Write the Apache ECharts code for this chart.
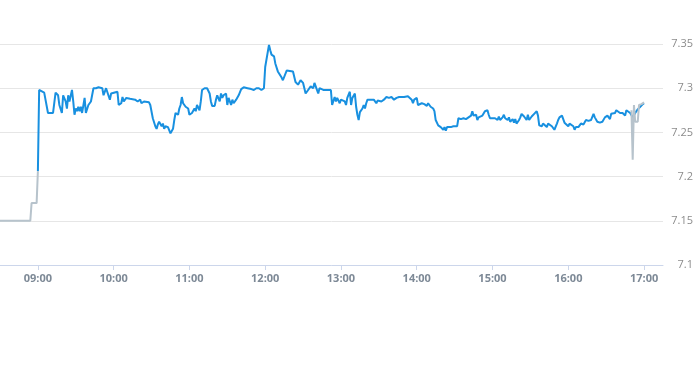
<!DOCTYPE html>
<html>
<head>
<meta charset="utf-8">
<script src="https://cdn.jsdelivr.net/npm/echarts@6/dist/echarts.min.js"></script>
<style>html,body{margin:0;padding:0;background:#fff;}#c{width:693px;height:365px;}</style>
</head>
<body>
<div id="c"></div>
<script>
// Main session (blue)
const sessionTimes = ["09:00","09:01","09:02","09:05","09:06","09:08","09:12","09:14","09:16","09:17","09:19","09:20","09:22","09:23","09:24","09:25","09:26","09:27","09:28","09:29","09:30","09:31","09:32","09:33","09:34","09:35","09:37","09:38","09:40","09:42","09:43","09:44","09:46","09:48","09:51","09:52","09:54","09:55","09:57","09:58","09:59","10:03","10:04","10:06","10:07","10:08","10:10","10:11","10:13","10:17","10:19","10:21","10:22","10:24","10:25","10:28","10:29","10:31","10:33","10:34","10:35","10:36","10:38","10:39","10:40","10:41","10:43","10:44","10:45","10:47","10:48","10:49","10:51","10:52","10:53","10:54","10:55","10:56","10:57","10:59","11:00","11:01","11:02","11:04","11:05","11:06","11:08","11:09","11:10","11:12","11:14","11:16","11:17","11:18","11:20","11:21","11:22","11:24","11:25","11:26","11:27","11:29","11:30","11:31","11:33","11:34","11:35","11:37","11:38","11:39","11:41","11:43","11:46","11:49","11:50","11:51","11:53","11:54","11:55","11:57","11:58","11:59","12:00","12:03","12:04","12:05","12:07","12:08","12:10","12:11","12:13","12:14","12:17","12:22","12:24","12:26","12:27","12:28","12:30","12:31","12:32","12:34","12:35","12:36","12:38","12:39","12:40","12:42","12:43","12:44","12:46","12:47","12:48","12:50","12:51","12:52","12:53","12:55","12:56","12:57","12:59","13:00","13:01","13:03","13:04","13:05","13:07","13:08","13:09","13:11","13:12","13:13","13:14","13:15","13:17","13:18","13:19","13:20","13:21","13:22","13:24","13:25","13:26","13:28","13:29","13:30","13:32","13:33","13:34","13:36","13:37","13:38","13:40","13:41","13:42","13:44","13:45","13:46","13:48","13:50","13:53","13:54","13:56","13:57","13:58","14:00","14:01","14:02","14:04","14:05","14:06","14:08","14:09","14:10","14:11","14:13","14:14","14:15","14:17","14:18","14:19","14:21","14:22","14:23","14:24","14:25","14:27","14:28","14:29","14:30","14:32","14:33","14:35","14:36","14:37","14:39","14:40","14:41","14:43","14:44","14:45","14:47","14:48","14:49","14:50","14:52","14:53","14:54","14:56","14:57","14:58","15:00","15:01","15:02","15:04","15:05","15:06","15:08","15:09","15:10","15:12","15:13","15:14","15:16","15:17","15:18","15:19","15:21","15:22","15:23","15:24","15:25","15:27","15:28","15:29","15:31","15:32","15:33","15:35","15:36","15:37","15:39","15:40","15:41","15:43","15:44","15:45","15:47","15:48","15:49","15:51","15:52","15:53","15:55","15:56","15:57","15:58","16:00","16:01","16:02","16:04","16:05","16:06","16:08","16:09","16:10","16:12","16:13","16:14","16:16","16:17","16:18","16:20","16:21","16:22","16:23","16:25","16:26","16:27","16:29","16:30","16:31","16:33","16:34","16:35","16:37","16:38","16:39","16:41","16:42","16:43","16:45","16:46","16:47","16:49","16:50","16:51","16:53","16:55","16:57","16:59","17:00"];
const sessionValues = [7.206,7.298,7.297,7.295,7.294,7.272,7.272,7.295,7.292,7.281,7.272,7.292,7.285,7.277,7.292,7.285,7.287,7.298,7.285,7.270,7.277,7.274,7.279,7.274,7.279,7.272,7.289,7.272,7.281,7.285,7.287,7.300,7.300,7.301,7.300,7.292,7.300,7.298,7.287,7.294,7.296,7.296,7.281,7.283,7.290,7.285,7.289,7.287,7.288,7.287,7.285,7.287,7.283,7.285,7.283,7.284,7.281,7.266,7.257,7.254,7.259,7.262,7.257,7.260,7.254,7.257,7.256,7.257,7.249,7.254,7.264,7.272,7.270,7.277,7.281,7.290,7.283,7.281,7.279,7.277,7.270,7.272,7.272,7.277,7.274,7.281,7.275,7.285,7.298,7.300,7.300,7.294,7.285,7.280,7.280,7.287,7.292,7.285,7.294,7.289,7.292,7.294,7.281,7.289,7.281,7.287,7.283,7.287,7.289,7.292,7.299,7.301,7.300,7.299,7.300,7.298,7.300,7.298,7.300,7.298,7.300,7.300,7.324,7.349,7.343,7.338,7.336,7.328,7.319,7.317,7.312,7.309,7.320,7.319,7.307,7.304,7.302,7.309,7.306,7.300,7.294,7.298,7.300,7.302,7.300,7.306,7.302,7.294,7.300,7.299,7.298,7.299,7.298,7.298,7.299,7.298,7.281,7.290,7.285,7.289,7.283,7.287,7.287,7.285,7.281,7.289,7.296,7.281,7.289,7.294,7.279,7.270,7.264,7.273,7.277,7.281,7.277,7.283,7.287,7.289,7.287,7.289,7.287,7.283,7.286,7.285,7.285,7.287,7.287,7.290,7.290,7.289,7.290,7.289,7.287,7.289,7.290,7.290,7.290,7.290,7.291,7.292,7.287,7.283,7.287,7.289,7.281,7.279,7.283,7.281,7.282,7.280,7.283,7.282,7.279,7.277,7.274,7.264,7.258,7.258,7.256,7.253,7.256,7.252,7.256,7.254,7.256,7.255,7.257,7.255,7.257,7.266,7.265,7.264,7.266,7.265,7.267,7.267,7.269,7.274,7.269,7.270,7.264,7.267,7.266,7.269,7.271,7.274,7.275,7.270,7.266,7.266,7.267,7.266,7.264,7.268,7.264,7.267,7.270,7.266,7.264,7.267,7.262,7.265,7.261,7.265,7.260,7.264,7.267,7.271,7.272,7.268,7.264,7.270,7.264,7.268,7.266,7.271,7.274,7.269,7.258,7.257,7.260,7.259,7.256,7.260,7.259,7.257,7.258,7.253,7.260,7.264,7.267,7.269,7.265,7.261,7.262,7.257,7.260,7.258,7.257,7.253,7.256,7.256,7.258,7.260,7.259,7.261,7.264,7.263,7.265,7.264,7.271,7.267,7.265,7.262,7.261,7.260,7.262,7.267,7.268,7.269,7.265,7.271,7.270,7.272,7.275,7.274,7.272,7.274,7.272,7.269,7.275,7.274,7.272,7.272,7.267,7.272,7.276,7.279,7.282,7.283];

// Extended hours (grey)
const preTimes = ["08:30","08:54","08:55","08:59","09:00"];
const preValues = [7.15,7.15,7.17,7.17,7.206];
const postTimes = ["16:50","16:51","16:52","16:53","16:55","16:56","16:58","17:00"];
const postValues = [7.275,7.219,7.281,7.262,7.262,7.281,7.282,7.284];

const xTickLabels = ["09:00","10:00","11:00","12:00","13:00","14:00","15:00","16:00","17:00"];
const yMin = 7.1, yMax = 7.35, yStep = 0.05;

function toMin(t){const p=t.split(':');return (+p[0])*60+(+p[1]);}
function fmt(m){const h=Math.floor(m/60),mm=m%60;return String(h).padStart(2,'0')+':'+String(mm).padStart(2,'0');}
function pairs(ts,vs){return ts.map((t,i)=>[toMin(t),vs[i]]);}

const chart = echarts.init(document.getElementById('c'), null, {renderer:'canvas'});
const tickVals = xTickLabels.map(toMin);
chart.setOption({
  animation:false,
  backgroundColor:'#ffffff',
  grid:{left:0,right:30,top:44,bottom:100,containLabel:false,outerBoundsMode:'none'},
  xAxis:{
    type:'value', min:toMin("08:30"), max:toMin("17:15"),
    axisLine:{show:true,lineStyle:{color:'#ccd6eb',width:1}},
    axisTick:{show:true,length:5,lineStyle:{color:'#ccd6eb'},customValues:tickVals},
    axisLabel:{customValues:tickVals,formatter:v=>fmt(v),color:'#7d8996',fontSize:11,fontWeight:'bold',fontFamily:'"Open Sans", Arial, sans-serif',margin:8},
    splitLine:{show:false}
  },
  yAxis:{
    type:'value', position:'right', min:yMin, max:yMax, interval:yStep,
    axisLine:{show:false}, axisTick:{show:false},
    axisLabel:{color:'#8c8c8c',fontSize:11,fontFamily:'"Open Sans", Arial, sans-serif',align:'right',margin:30},
    splitLine:{show:true,lineStyle:{color:'#e6e6e6',width:1}}
  },
  series:[
    {type:'line',data:pairs(sessionTimes,sessionValues),showSymbol:false,symbol:'none',
     lineStyle:{color:'#1890e0',width:2},itemStyle:{color:'#1890e0'},z:2},
    {type:'line',data:pairs(preTimes,preValues),showSymbol:false,symbol:'none',
     lineStyle:{color:'#b7c3cc',width:2},itemStyle:{color:'#b7c3cc'},z:3},
    {type:'line',data:pairs(postTimes,postValues),showSymbol:false,symbol:'none',
     lineStyle:{color:'#b7c3cc',width:2},itemStyle:{color:'#b7c3cc'},z:3}
  ]
});
</script>
</body>
</html>
